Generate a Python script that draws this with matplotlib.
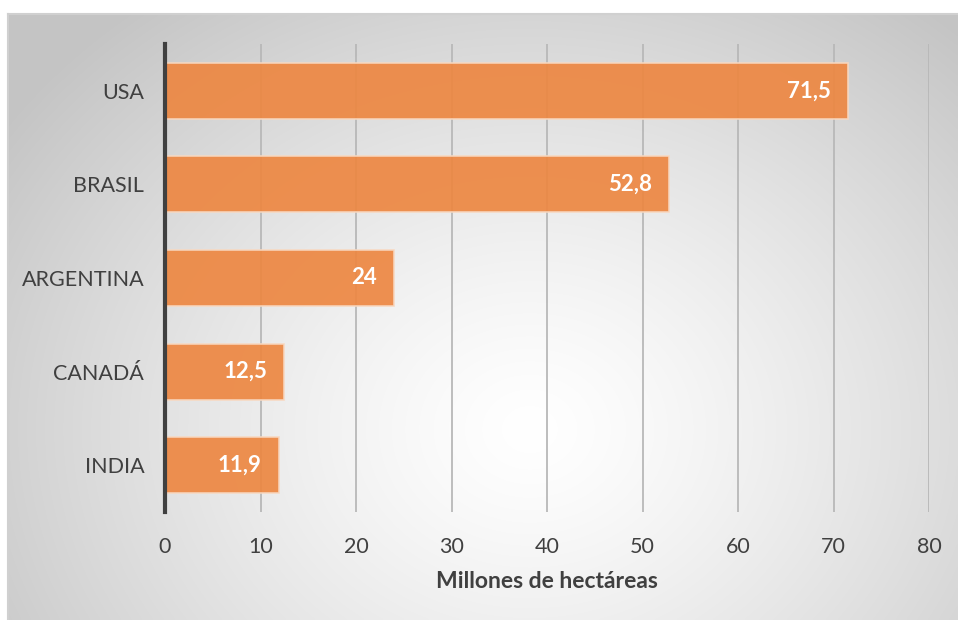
import numpy as np
import matplotlib
matplotlib.use("Agg")
import matplotlib.pyplot as plt

countries = ["USA", "BRASIL", "ARGENTINA", "CANADÁ", "INDIA"]
values = [71.5, 52.8, 24, 12.5, 11.9]
labels = ["71,5", "52,8", "24", "12,5", "11,9"]
xticks = [0, 10, 20, 30, 40, 50, 60, 70, 80]

plt.rcParams['font.family'] = ['Lato', 'DejaVu Sans']

W, H = 958, 620
fig = plt.figure(figsize=(W / 100, H / 100), dpi=100)
fig.patch.set_facecolor("white")

# background radial gradient panel
bx0, by0, bx1, by1 = 8, 14, 958, 620
bg = fig.add_axes([bx0 / W, 1 - by1 / H, (bx1 - bx0) / W, (by1 - by0) / H], zorder=0)
nx, ny = 400, 260
xx, yy = np.meshgrid(np.linspace(bx0, bx1, nx), np.linspace(by0, by1, ny))
cx, cy = 530, 430
d = np.sqrt(((xx - cx) / 640) ** 2 + ((yy - cy) / 540) ** 2)
d = np.clip(d, 0, 1)
v = 1.0 - 0.23 * d ** 1.3
img = np.dstack([v, v, v])
bg.imshow(img, aspect="auto", extent=[0, 1, 0, 1], interpolation="bilinear")
bg.set_xlim(0, 1)
bg.set_ylim(0, 1)
bg.set_xticks([])
bg.set_yticks([])
for s in ["right", "bottom"]:
    bg.spines[s].set_visible(False)
for s in ["top", "left"]:
    bg.spines[s].set_color("#d0d0d0")
    bg.spines[s].set_linewidth(1.5)

ax = fig.add_axes([165 / W, 1 - 512 / H, (929 - 165) / W, (512 - 44) / H], zorder=1)
ax.patch.set_alpha(0)

ypos = np.arange(len(countries))
ax.barh(ypos, values, height=0.6, color="#ED8742", alpha=0.92,
        edgecolor="#f8d8c0", linewidth=1.2, zorder=3)
for y, v_, lab in zip(ypos, values, labels):
    ax.text(v_ - 1.8, y, lab, ha="right", va="center", color="white",
            fontsize=16, fontweight="bold", zorder=4)

ax.set_xlim(0, 80)
ax.set_ylim(len(countries) - 0.5, -0.5)
ax.set_xticks(xticks)
ax.set_xticklabels([str(t) for t in xticks], fontsize=15.5, color="#404040")
ax.set_yticks(ypos)
ax.set_yticklabels(countries, fontsize=15.5, color="#404040")
ax.tick_params(axis="both", length=0)
ax.tick_params(axis="x", pad=18)
ax.tick_params(axis="y", pad=15)
ax.grid(axis="x", color="#b8b8b8", linewidth=1.3, zorder=1)
ax.set_axisbelow(True)
for s in ["top", "right", "bottom"]:
    ax.spines[s].set_visible(False)
ax.spines["left"].set_color("#404040")
ax.spines["left"].set_linewidth(3)
ax.spines["left"].set_zorder(5)
ax.set_xlabel("Millones de hectáreas", fontsize=16.5, fontweight="bold",
              color="#404040", labelpad=10)

fig.savefig("out.png", dpi=100)
